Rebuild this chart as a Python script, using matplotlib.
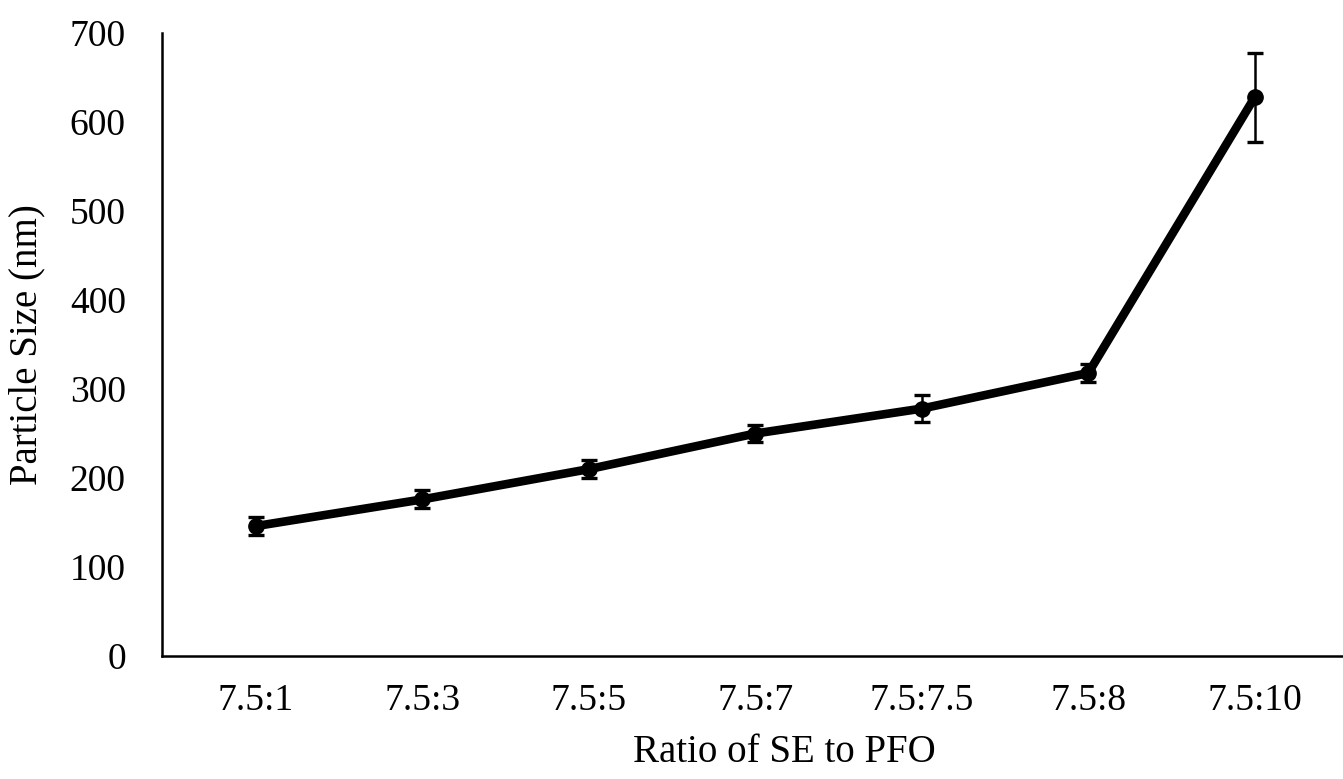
import matplotlib.pyplot as plt

ratios = ["7.5:1", "7.5:3", "7.5:5", "7.5:7", "7.5:7.5", "7.5:8", "7.5:10"]
size_nm = [146, 176, 210, 250, 278, 318, 628]
size_err = [10, 10, 10, 10, 15, 10, 50]

plt.rcParams['font.family'] = ['Liberation Serif', 'DejaVu Serif']

fig = plt.figure(figsize=(13.43, 7.79), dpi=100)
ax = fig.add_axes([0.1206, 0.1579, 0.8794, 0.7997])

x = list(range(len(ratios)))
ax.errorbar(x, size_nm, yerr=size_err, color="black", linewidth=6.2,
            marker="o", markersize=11, ecolor="black", elinewidth=1.8,
            capsize=6, capthick=2.4)

ax.set_xlim(-0.565, 6.53)
ax.set_ylim(0, 700)
ax.set_yticks(range(0, 701, 100))
ax.set_xticks(x)
ax.set_xticklabels(ratios)

for side in ["top", "right"]:
    ax.spines[side].set_visible(False)
for side in ["left", "bottom"]:
    ax.spines[side].set_linewidth(1.8)

ax.tick_params(axis="y", length=0, pad=26, labelsize=27)
ax.tick_params(axis="x", length=0, pad=20, labelsize=27)

ax.set_ylabel("Particle Size (nm)", fontsize=28)
ax.yaxis.set_label_coords(-0.099, 0.5)
ax.set_xlabel("Ratio of SE to PFO", fontsize=28)
ax.xaxis.set_label_coords(0.527, -0.125)

plt.savefig("out.png", dpi=100)
